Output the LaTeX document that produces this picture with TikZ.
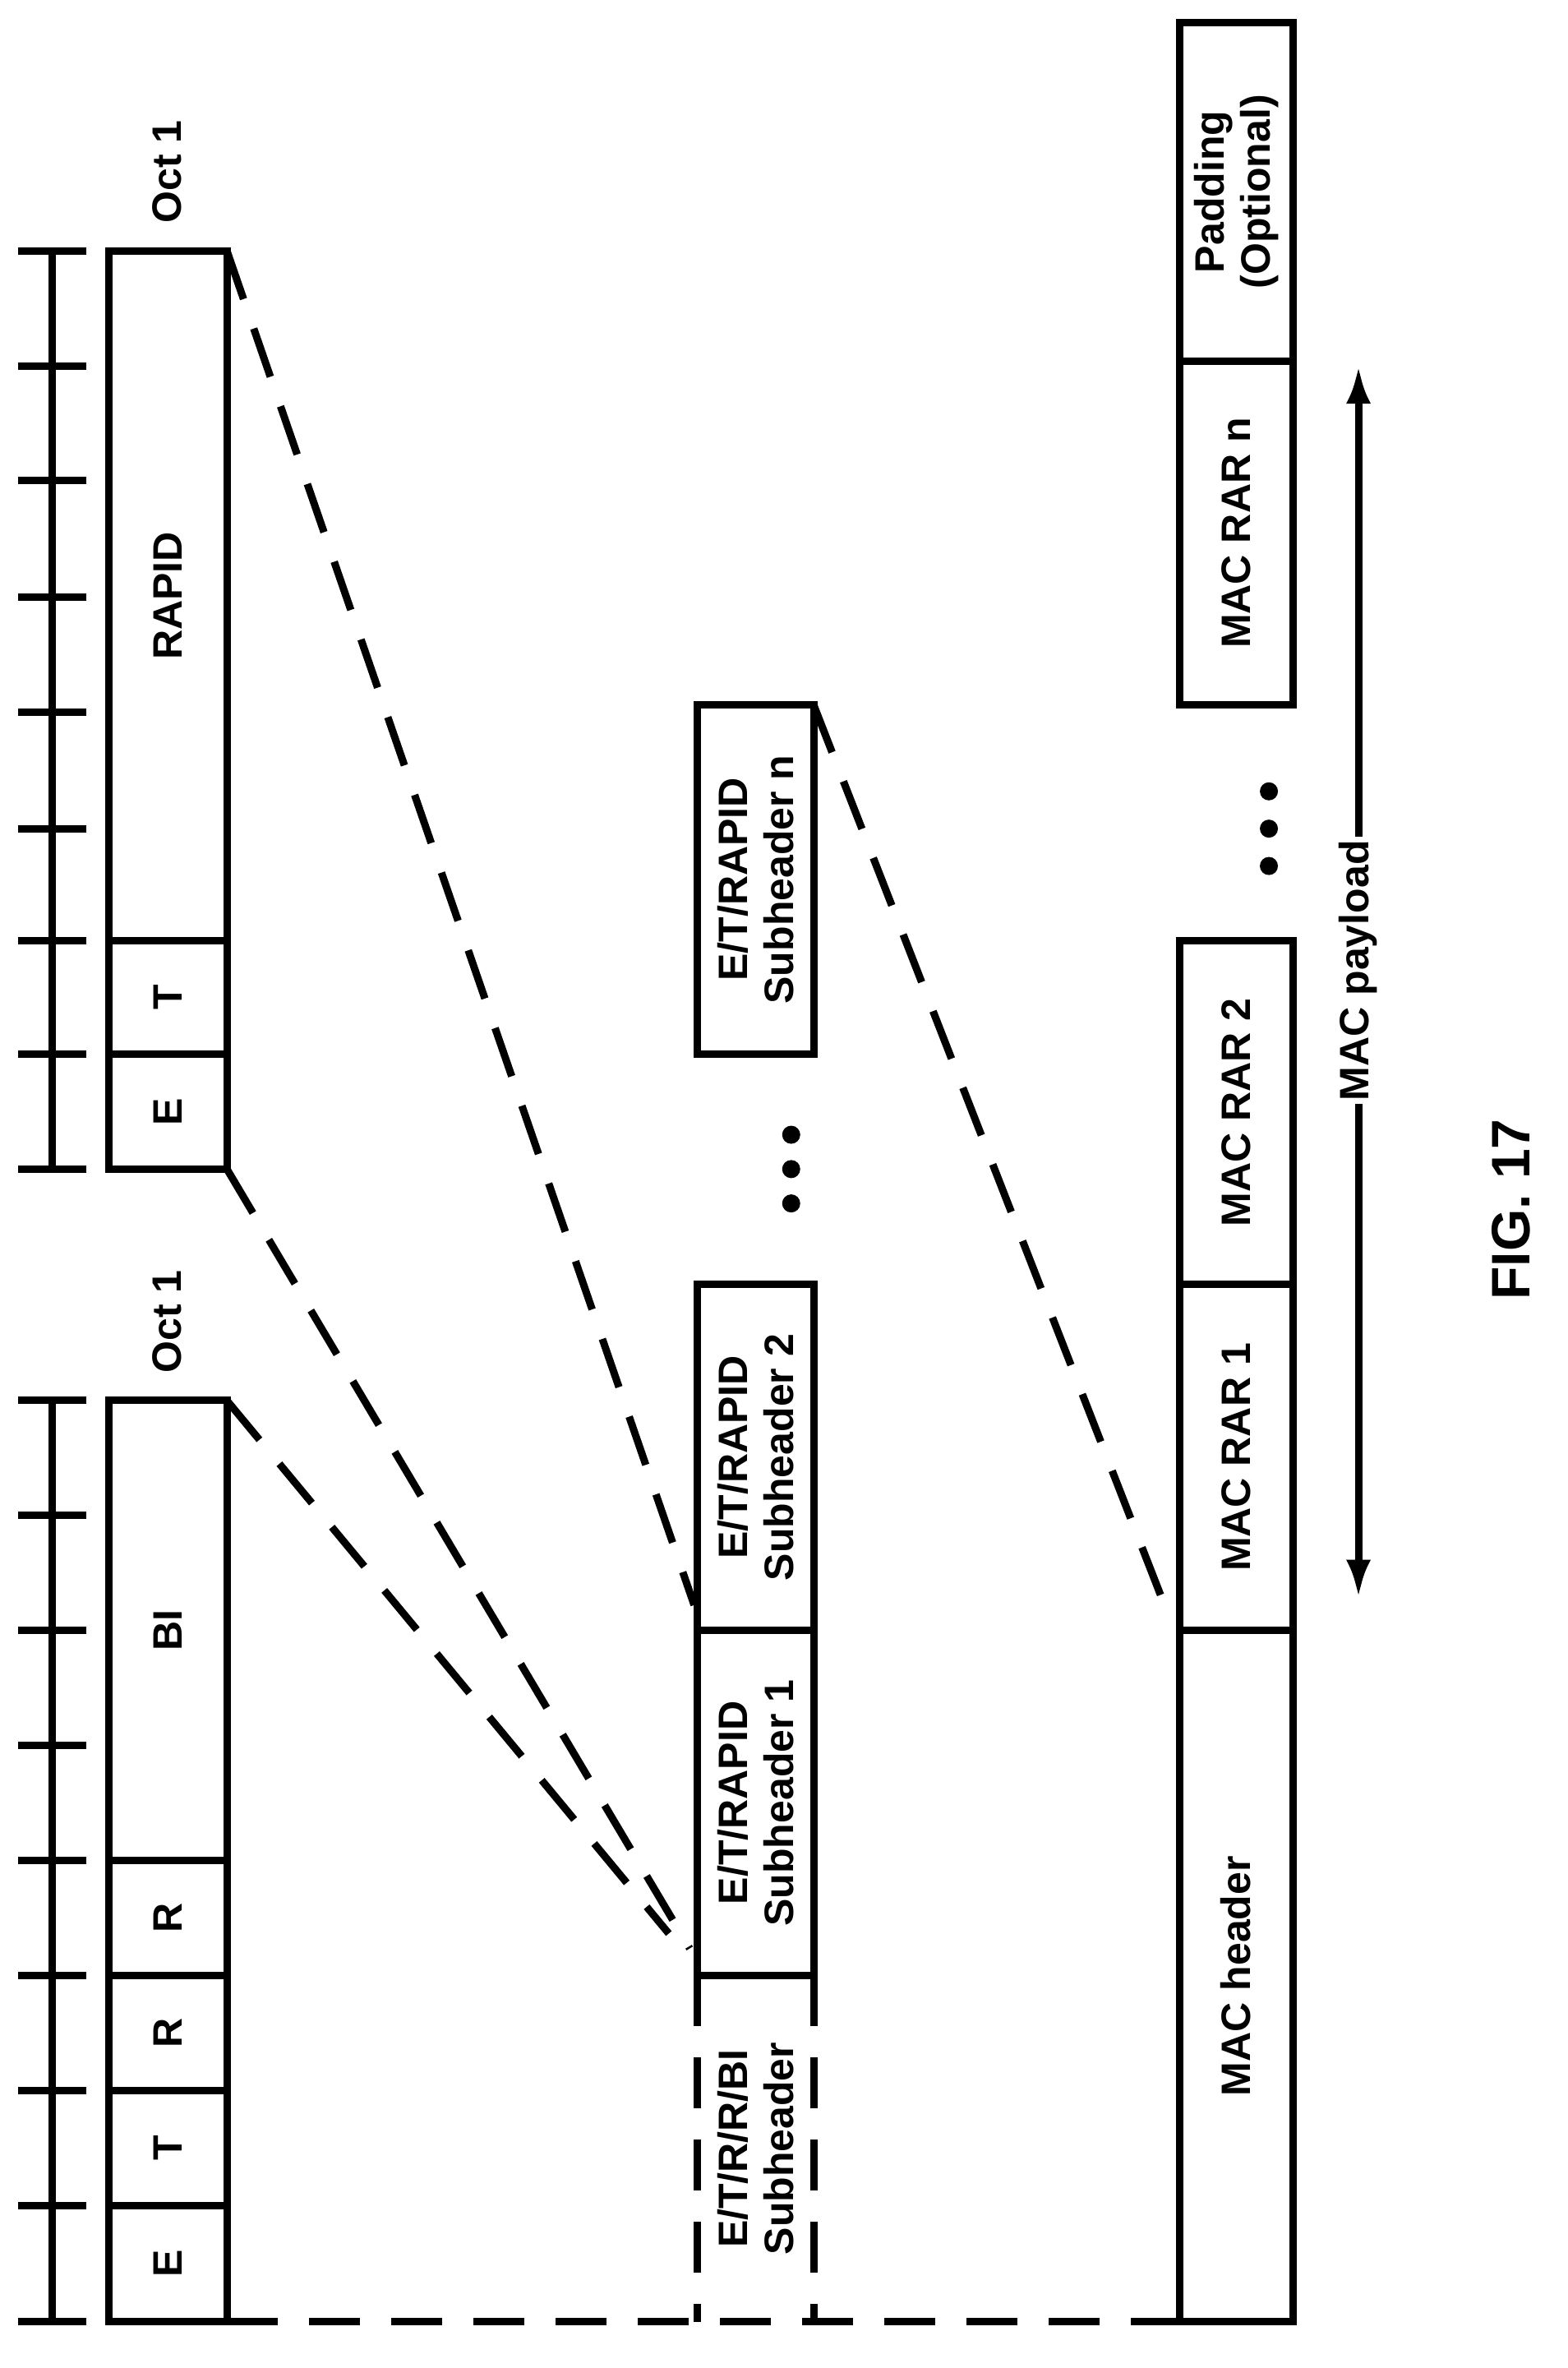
\documentclass[tikz,border=0pt]{standalone}
\usepackage{fontspec}
\setmainfont{Liberation Sans}
\usetikzlibrary{arrows.meta}
\begin{document}
\begin{tikzpicture}[x=1.816pt,y=-1.816pt,line width=9pt,
 lbl/.style={rotate=90,font=\bfseries\fontsize{50}{56}\selectfont,align=center,inner sep=0},
 dsh/.style={dash pattern=on 62pt off 38pt},
 dot/.style={circle,fill,inner sep=0,minimum size=22pt}]
\useasboundingbox (0,0) rectangle (1050,1586);
\newcommand\cell[6]{\draw (#1,#2) rectangle (#3,#4); \node[lbl] (#5) at ({(#1+#3)/2},{(#2+#4)/2}) {#6};}
% ladders
\draw (35,168) -- (35,783);
\foreach \y in {168,245,322,400,477,555,630,706,783} \draw (12,\y) -- (58,\y);
\draw (35,938) -- (35,1555);
\foreach \y in {938,1015,1092,1169,1246,1323,1400,1477,1555} \draw (12,\y) -- (58,\y);
% top box
\cell{73}{168}{152}{630}{rapid}{RAPID}
\cell{73}{630}{152}{706}{t1}{T}
\cell{73}{706}{152}{783}{e1}{E}
\node[lbl,anchor=west] (oct1) at (112,152) {Oct 1};
% bottom box
\cell{73}{938}{152}{1246}{bi}{BI}
\cell{73}{1246}{152}{1323}{r2}{R}
\cell{73}{1323}{152}{1400}{r1}{R}
\cell{73}{1400}{152}{1477}{t2}{T}
\cell{73}{1477}{152}{1555}{e2}{E}
\node[lbl,anchor=west] (oct2) at (112,922) {Oct 1};
% subheaders
\cell{467}{472}{545}{706}{shn}{E/T/RAPID\\Subheader n}
\cell{467}{860}{545}{1092}{sh2}{E/T/RAPID\\Subheader 2}
\cell{467}{1092}{545}{1323}{sh1}{E/T/RAPID\\Subheader 1}
\draw[dsh] (467,1323) -- (467,1555) (545,1323) -- (545,1555);
\node[lbl] (bish) at (506,1439) {E/T/R/R/BI\\Subheader};
\node[dot] (d1) at (530,760) {}; \node[dot] at (530,783) {}; \node[dot] at (530,806) {};
% MAC row
\cell{790}{15}{866}{242}{pad}{Padding\\(Optional)}
\cell{790}{242}{866}{472}{rarn}{MAC RAR n}
\node[dot] at (850,530) {}; \node[dot] at (850,555) {}; \node[dot] at (850,580) {};
\cell{790}{630}{866}{860}{rar2}{MAC RAR 2}
\cell{790}{860}{866}{1092}{rar1}{MAC RAR 1}
\cell{790}{1092}{866}{1555}{mach}{MAC header}
% dashed connectors
\draw[dsh] (152,168) -- (465,1075);
\draw[dsh] (152,783) -- (462,1305);
\draw[dsh] (152,938) -- (448,1295);
\draw[dsh] (152,1555) -- (790,1555);
\draw[dsh] (545,472) -- (782,1080);
% payload arrow
\draw[<->,>={Latex[length=46pt,width=30pt]}] (910,245) -- (910,1070);
\node[lbl,fill=white,inner sep=4pt] (pl) at (910,650) {MAC payload};
\node[rotate=90,font=\bfseries\fontsize{66}{72}\selectfont] (fig) at (1012,810) {FIG. 17};
\end{tikzpicture}
\end{document}
